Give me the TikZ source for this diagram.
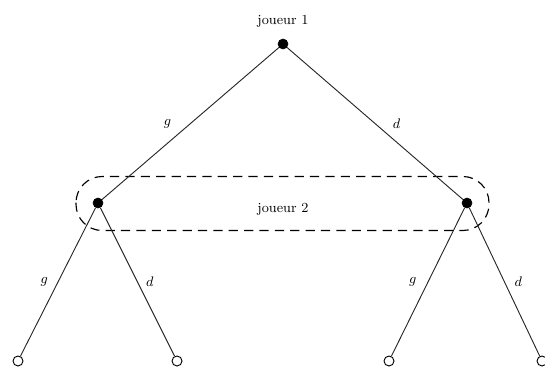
\documentclass[tikz,border=0pt]{standalone}
\usepackage{tikz}
\usetikzlibrary{positioning}

\begin{document}
\begin{tikzpicture}[
        x=0.65pt, y=-0.65pt,
        every node/.style={font=\small},
        decision/.style={circle, fill=black, draw=black, inner sep=0pt, minimum size=6.5pt},
        terminal/.style={circle, fill=white, draw=black, line width=0.6pt, inner sep=0pt, minimum size=6.5pt},
        branch/.style={draw=black!85, line width=0.6pt},
        infoset/.style={draw=black, line width=0.75pt, dash pattern=on 6pt off 4pt, rounded corners=17pt}
    ]
        \useasboundingbox (0,0) rectangle (545,369);

        % Nodes
        \node[decision] (root) at (283,44) {};
        \node[above=4pt of root] (p1) {joueur 1};
        \node[decision] (left) at (98,203) {};
        \node[decision] (right) at (467,203) {};
        \node[terminal] (ll) at (18,361) {};
        \node[terminal] (lr) at (177,361) {};
        \node[terminal] (rl) at (389,361) {};
        \node[terminal] (rr) at (542,361) {};

        % Information set
        \draw[infoset] (76,176.5) rectangle (489,230.5);
        \node (p2) at (283,209) {joueur 2};

        % Connections
        \draw[branch] (root) -- node[left=9pt] {$g$} (left);
        \draw[branch] (root) -- node[right=8pt] {$d$} (right);
        \draw[branch] (left) -- node[left=3pt] {$g$} (ll);
        \draw[branch] (left) -- node[right=2pt] {$d$} (lr);
        \draw[branch] (right) -- node[left=4pt] {$g$} (rl);
        \draw[branch] (right) -- node[right=3pt] {$d$} (rr);

    \end{tikzpicture}
\end{document}
